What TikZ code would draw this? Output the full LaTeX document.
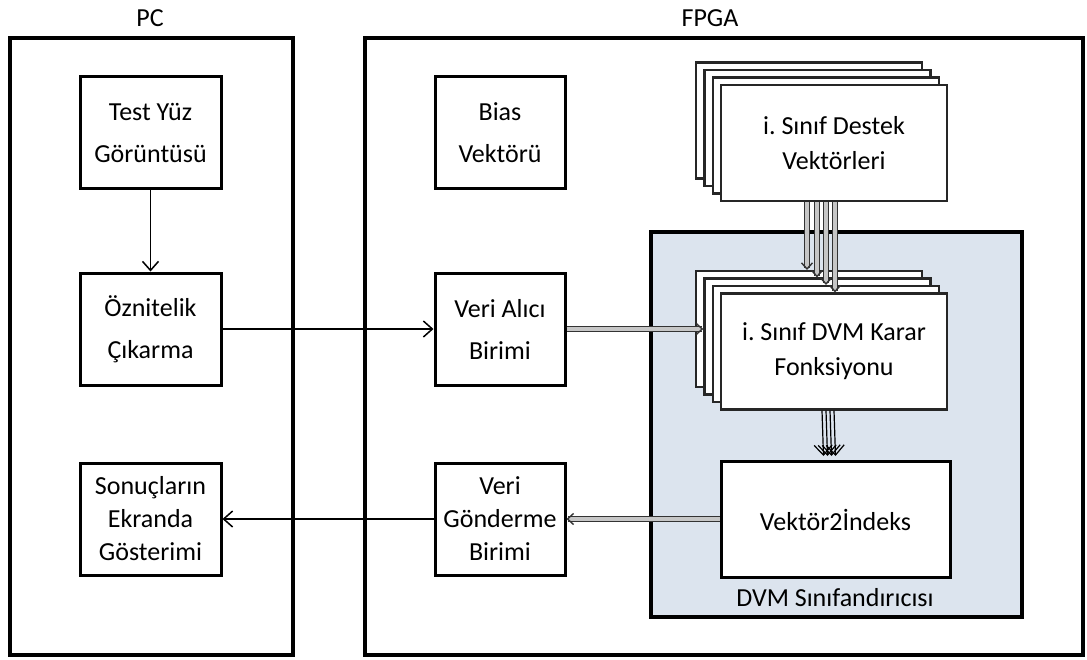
\documentclass[tikz,border=0pt]{standalone}
\usepackage{fontspec}
\setmainfont{Carlito}
\usetikzlibrary{arrows.meta}
\definecolor{dvmblue}{HTML}{DCE4EE}

\tikzset{
	frame/.style={draw, line width=2pt, inner sep=0pt},
	block/.style={draw, line width=1.5pt, fill=white, align=center, inner sep=0pt,
		minimum width=70.5pt, minimum height=56pt, font=\fontsize{13}{21}\selectfont},
	sheet/.style={draw=black!85, line width=1.1pt, fill=white, inner sep=0pt,
		minimum width=113pt, minimum height=58pt, align=center, font=\fontsize{13}{17.5}\selectfont},
	wire/.style={line width=0.75pt, -{Straight Barb[length=4.5pt,width=8pt]}},
	pipe/.style={draw=black!80, line width=0.7pt, double=gray!45, double distance=2pt,
		-{Straight Barb[length=3pt,width=5.5pt]}},
}

\begin{document}
\begin{tikzpicture}[x=0.5pt, y=-0.5pt, font=\fontsize{13}{17}\selectfont]
	\useasboundingbox (0,0) rectangle (1087,659);

	% PC and FPGA
	\node[frame, minimum width=141.5pt, minimum height=308.5pt] (pc) at (151.5,346.5) {};
	\node[frame, minimum width=359pt, minimum height=308.5pt] (fpga) at (724,346.5) {};
	\node (pclbl) at (150,18) {PC};
	\node (fpgalbl) at (710,18) {FPGA};

	% DVM block
	\node[draw, line width=1.7pt, fill=dvmblue, minimum width=185.5pt, minimum height=192.5pt] (dvm) at (836.5,424.5) {};
	\node (dvmlbl) at (835,598) {DVM Sınıfandırıcısı};

	% stacked sheets
	\foreach \k in {3,2,1} {
		\node[sheet, xshift=-\k*4.15pt, yshift=\k*3.75pt] (destek\k) at (834,143) {};
		\node[sheet, xshift=-\k*4.15pt, yshift=\k*3.75pt] (karar\k) at (834,351.5) {};
	}
	\node[sheet, alias=destek0] (destek) at (834,143) {i.\ Sınıf Destek\\Vektörleri};
	\node[sheet, alias=karar0] (karar) at (834,351.5) {i.\ Sınıf DVM Karar\\Fonksiyonu};
	\node[sheet, draw=black, line width=1.5pt, minimum width=114.5pt] (vek) at (835.5,519.5) {Vektör2İndeks};

	% PC side
	\node[block] (test) at (150.5,132.5) {Test Yüz\\Görüntüsü};
	\node[block] (ozn) at (150.5,329) {Öznitelik\\Çıkarma};
	\node[block, font=\fontsize{13}{16.5}\selectfont] (sonuc) at (150.5,519) {Sonuçların\\Ekranda\\Gösterimi};

	% FPGA side
	\node[block, minimum width=65pt] (bias) at (500,132.5) {Bias\\Vektörü};
	\node[block, minimum width=65pt] (alici) at (500,329) {Veri Alıcı\\Birimi};
	\node[block, minimum width=65pt, font=\fontsize{13}{16.5}\selectfont] (gonder) at (500,519) {Veri\\Gönderme\\Birimi};

	% connections
	\draw[wire] (test) -- (ozn);
	\draw[wire] (ozn.east) -- (alici.west);
	\draw[wire] (gonder.west) -- (sonuc.east);

	\draw[pipe] (alici.east) -- (alici.east -| karar2.west);
	\draw[pipe] (vek.west |- gonder.east) -- (gonder.east);

	\foreach \k/\dx in {3/-13.5, 2/-8.5, 1/-4, 0/0.5}
		\draw[pipe] ([xshift=\dx pt]destek.south) -- ([xshift=\dx pt]destek.south |- karar\k.north);

	\foreach \sx/\ex in {-6/-6, -4/-4, -2/-2, 0/0}
		\draw[line width=0.6pt, -{Straight Barb[length=5pt,width=9pt]}]
			([xshift=\sx pt]karar.south) -- ([xshift=\ex pt, yshift=2pt]vek.north);
\end{tikzpicture}
\end{document}
